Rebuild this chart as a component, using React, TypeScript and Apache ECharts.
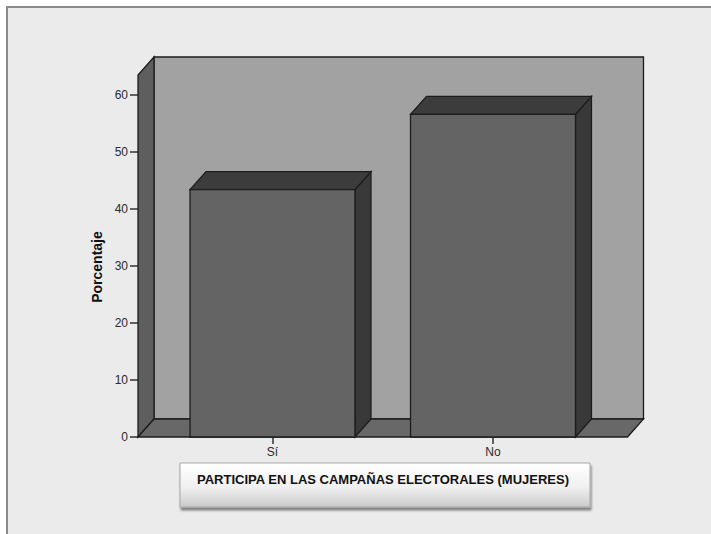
import React, { useEffect, useRef } from "react";
import * as echarts from "echarts";

const categories = ["Sí", "No"];
const percentages = [43.4, 56.6];
const yTicks = [0, 10, 20, 30, 40, 50, 60];
const yMax = 63.5;
const axisName = "Porcentaje";
const titleText = "PARTICIPA EN LAS CAMPAÑAS ELECTORALES (MUJERES)";

const DX = 16;
const DY = -18;
const PAD = 24.25;
const FONT = "'Liberation Sans', Arial, sans-serif";

export default function App() {
  const ref = useRef<HTMLDivElement>(null);
  useEffect(() => {
    if (!ref.current) return;
    const chart = echarts.init(ref.current, undefined, { renderer: "svg" });
    const outline = { stroke: "#1c1c1c", lineWidth: 1.3 };
    chart.setOption({
      animation: false,
      backgroundColor: "#ffffff",
      grid: { left: 162.25, right: 107.75, top: 75, bottom: 97 },
      xAxis: {
        type: "category",
        data: categories,
        axisLine: { show: false },
        axisTick: { show: true, alignWithLabel: true, length: 7, lineStyle: { color: "#333", width: 1.5 } },
        axisLabel: { fontSize: 12, color: "#2a2a2a", margin: 9, fontFamily: FONT },
        splitLine: { show: false },
      },
      yAxis: {
        type: "value",
        min: 0,
        max: yMax,
        offset: PAD,
        axisLine: { show: false },
        axisTick: { show: true, length: 8, customValues: yTicks, lineStyle: { color: "#333", width: 1.5 } },
        axisLabel: { fontSize: 12, color: "#2a2a2a", margin: 10, customValues: yTicks, fontFamily: FONT },
        splitLine: { show: false },
        name: axisName,
        nameLocation: "middle",
        nameRotate: 90,
        nameGap: 33,
        nameTextStyle: {
          fontSize: 14,
          fontWeight: "bold",
          color: "#111",
          fontFamily: FONT,
          padding: [0, 22, 0, 0],
        },
      },
      graphic: [
        {
          type: "rect",
          z: -10,
          shape: { x: 7, y: 7, width: 720, height: 540 },
          style: { fill: "#ebebeb", stroke: "#8a8a8a", lineWidth: 2 },
        },
        {
          type: "rect",
          z: 5,
          shape: { x: 180, y: 463, width: 410, height: 44 },
          style: {
            fill: new echarts.graphic.LinearGradient(0, 0, 0, 1, [
              { offset: 0, color: "#ffffff" },
              { offset: 0.55, color: "#f0f0f0" },
              { offset: 1, color: "#cbcbcb" },
            ]),
            stroke: "#a8a8a8",
            lineWidth: 1,
            shadowColor: "rgba(0,0,0,0.45)",
            shadowOffsetX: 1,
            shadowOffsetY: 3,
            shadowBlur: 2,
          },
        },
        {
          type: "text",
          z: 6,
          x: 383,
          y: 479,
          style: {
            text: titleText,
            fontSize: 13,
            fontWeight: "bold",
            fontFamily: FONT,
            fill: "#111",
            align: "center",
            verticalAlign: "middle",
          },
        },
      ],
      series: [
        {
          type: "custom",
          z: 1,
          data: [[0, 0]],
          renderItem: (params: any, api: any) => {
            const cs = params.coordSys;
            const bottom = api.coord([0, 0])[1];
            const top = api.coord([0, yMax])[1];
            const fl = cs.x - PAD;
            const fr = cs.x + cs.width + PAD;
            return {
              type: "group",
              children: [
                {
                  type: "rect",
                  shape: { x: fl + DX, y: top + DY, width: fr - fl, height: bottom - top },
                  style: { fill: "#a2a2a2", ...outline },
                },
                {
                  type: "polygon",
                  shape: { points: [[fl, bottom], [fl, top], [fl + DX, top + DY], [fl + DX, bottom + DY]] },
                  style: { fill: "#5e5e5e", ...outline },
                },
                {
                  type: "polygon",
                  shape: { points: [[fl, bottom], [fr, bottom], [fr + DX, bottom + DY], [fl + DX, bottom + DY]] },
                  style: { fill: "#686868", ...outline },
                },
              ],
            };
          },
        },
        {
          type: "custom",
          z: 2,
          data: percentages.map((v, i) => [i, v]),
          encode: { x: 0, y: 1 },
          renderItem: (params: any, api: any) => {
            const idx = api.value(0);
            const v = api.value(1);
            const base = api.coord([idx, 0]);
            const top = api.coord([idx, v]);
            const w = api.size([1, 0])[0] * 0.748;
            const l = base[0] - w / 2;
            const r = base[0] + w / 2;
            const t = top[1];
            const b = base[1];
            return {
              type: "group",
              children: [
                {
                  type: "polygon",
                  shape: { points: [[r, t], [r, b], [r + DX, b + DY], [r + DX, t + DY]] },
                  style: { fill: "#393939", ...outline },
                },
                {
                  type: "polygon",
                  shape: { points: [[l, t], [r, t], [r + DX, t + DY], [l + DX, t + DY]] },
                  style: { fill: "#3c3c3c", ...outline },
                },
                {
                  type: "rect",
                  shape: { x: l, y: t, width: w, height: b - t },
                  style: { fill: "#646464", ...outline },
                },
              ],
            };
          },
        },
      ],
    });
    return () => chart.dispose();
  }, []);
  return (
    <div
      ref={ref}
      style={{ position: "fixed", left: 0, top: 0, width: 711, height: 534 }}
    />
  );
}
